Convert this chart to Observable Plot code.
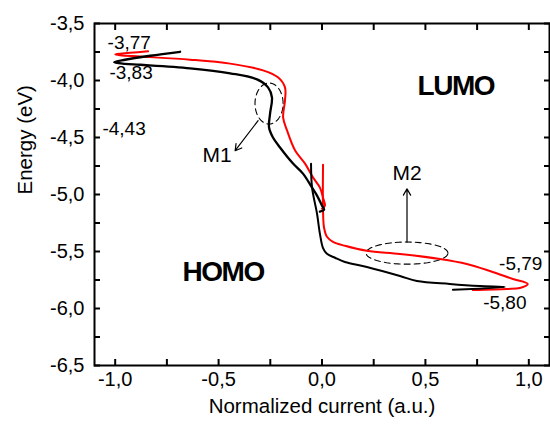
<!DOCTYPE html>
<html><head><meta charset="utf-8">
<script src="https://cdn.jsdelivr.net/npm/d3@7"></script>
<script src="https://cdn.jsdelivr.net/npm/@observablehq/plot@0.6"></script>
<style>
body{margin:0;background:#fff}
svg{font-family: Arial, "Liberation Sans", sans-serif}
</style>
</head><body><div id="chart"></div>
<script>
// ---- data ----
const xTickValues = [-1, -0.75, -0.5, -0.25, 0, 0.25, 0.5, 0.75, 1];
const yTickValues = [-6.5, -6.25, -6, -5.75, -5.5, -5.25, -5, -4.75, -4.5, -4.25, -4, -3.75, -3.5];

// black curve, upper branch (LUMO tail, M1, diagonal)
const blackUpperX = [-0.686, -0.831, -0.952, -1.005, -0.952, -0.879, -0.638, -0.444, -0.314, -0.261, -0.242, -0.251, -0.256, -0.237, -0.203, -0.140, -0.092, -0.048, -0.024, 0.000, 0.010, -0.010];
const blackUpperY = [-3.748, -3.783, -3.818, -3.840, -3.854, -3.862, -3.893, -3.937, -3.990, -4.060, -4.148, -4.289, -4.412, -4.500, -4.588, -4.729, -4.817, -4.940, -5.010, -5.098, -5.133, -5.150];
// black curve, lower branch (vertical drop, HOMO tail)
const blackLowerX = [-0.053, -0.048, -0.024, -0.010, 0.005, 0.024, 0.063, 0.111, 0.217, 0.377, 0.459, 0.618, 0.763, 0.884, 0.633];
const blackLowerY = [-4.730, -4.940, -5.169, -5.345, -5.470, -5.520, -5.555, -5.592, -5.636, -5.715, -5.759, -5.785, -5.803, -5.812, -5.836];

// red curve, upper branch
const redUpperX = [-0.841, -0.928, -1.000, -0.976, -0.879, -0.638, -0.444, -0.285, -0.213, -0.179, -0.179, -0.188, -0.169, -0.130, -0.082, -0.043, -0.010, 0.005, 0.014, 0.000];
const redUpperY = [-3.744, -3.757, -3.770, -3.779, -3.790, -3.817, -3.852, -3.911, -3.972, -4.060, -4.175, -4.324, -4.438, -4.614, -4.729, -4.852, -4.940, -5.028, -5.098, -5.125];
// red curve, lower branch
const redLowerX = [0.005, 0.005, 0.010, 0.024, 0.053, 0.111, 0.217, 0.377, 0.570, 0.700, 0.812, 0.923, 0.995, 0.957, 0.894, 0.729];
const redLowerY = [-4.738, -5.142, -5.292, -5.371, -5.415, -5.450, -5.494, -5.521, -5.565, -5.609, -5.671, -5.741, -5.785, -5.820, -5.829, -5.838];

// value annotations
const valueLabels = ["-3,77", "-3,83", "-4,43", "-5,79", "-5,80"];
const valueLabelX = [-0.932, -0.923, -0.957, 0.961, 0.884];
const valueLabelY = [-3.673, -3.937, -4.421, -5.609, -5.952];

// region labels
const regionLabels = ["LUMO", "HOMO"];
const regionLabelX = [0.647, -0.478];
const regionLabelY = [-4.052, -5.680];

// marker labels
const markerLabels = ["M1", "M2"];
const markerLabelX = [-0.507, 0.411];
const markerLabelY = [-4.659, -4.810];

// dashed ellipses: centre and radii (data units)
const ellipseCx = [-0.256, 0.411];
const ellipseCy = [-4.202, -5.514];
const ellipseRx = [0.068, 0.198];
const ellipseRy = [0.180, 0.097];

// arrows
const arrowX1 = [-0.309, 0.411];
const arrowY1 = [-4.352, -5.418];
const arrowX2 = [-0.420, 0.411];
const arrowY2 = [-4.616, -4.951];

// ---- build tables ----
const toRows = (xs, ys) => xs.map((x, i) => ({x, y: ys[i]}));
const blackUpper = toRows(blackUpperX, blackUpperY);
const blackLower = toRows(blackLowerX, blackLowerY);
const redUpper = toRows(redUpperX, redUpperY);
const redLower = toRows(redLowerX, redLowerY);
const valueRows = valueLabels.map((t, i) => ({t, x: valueLabelX[i], y: valueLabelY[i]}));
const regionRows = regionLabels.map((t, i) => ({t, x: regionLabelX[i], y: regionLabelY[i]}));
const markerRows = markerLabels.map((t, i) => ({t, x: markerLabelX[i], y: markerLabelY[i]}));
const ellipseRows = [];
ellipseCx.forEach((cx, k) => {
  for (let a = 0; a <= 360; a += 6) {
    const r = a * Math.PI / 180;
    ellipseRows.push({k, x: cx + ellipseRx[k] * Math.cos(r), y: ellipseCy[k] + ellipseRy[k] * Math.sin(r)});
  }
});
const arrowRows = arrowX1.map((x1, i) => ({x1, y1: arrowY1[i], x2: arrowX2[i], y2: arrowY2[i]}));

const fmt = d => (Math.abs(d * 2 % 1) < 1e-9 ? d.toFixed(1).replace("-0.0", "0.0").replace(".", ",") : "");
const none = () => "";

const chart = Plot.plot({
  width: 550,
  height: 425,
  marginLeft: 94,
  marginRight: 1,
  marginTop: 23,
  marginBottom: 60,
  x: {domain: [-1.1, 1.1]},
  y: {domain: [-6.5, -3.5]},
  style: {fontFamily: "Arial, 'Liberation Sans', sans-serif", fontSize: "20px", color: "black", background: "white"},
  marks: [
    Plot.axisX({ticks: xTickValues, anchor: "bottom", tickSize: -6, tickFormat: none, label: null, strokeWidth: 2}),
    Plot.axisX({ticks: xTickValues, anchor: "top", tickSize: -6, tickFormat: none, label: null, strokeWidth: 2}),
    Plot.axisY({ticks: yTickValues, anchor: "left", tickSize: -6, tickFormat: none, label: null, strokeWidth: 2}),
    Plot.axisY({ticks: yTickValues, anchor: "right", tickSize: -6, tickFormat: none, label: null, strokeWidth: 2}),
    Plot.axisX({ticks: xTickValues, anchor: "bottom", tickSize: 0, tickPadding: 6, tickFormat: fmt, label: null, fontSize: 20}),
    Plot.axisY({ticks: yTickValues, anchor: "left", tickSize: 0, tickPadding: 10, tickFormat: fmt, label: null, fontSize: 20}),
    Plot.frame({strokeWidth: 2}),
    Plot.text(["Normalized current (a.u.)"], {frameAnchor: "bottom", dy: 47, fontSize: 20.5}),
    Plot.text(["Energy (eV)"], {frameAnchor: "left", dx: -69, rotate: -90, fontSize: 20.5}),
    Plot.line(ellipseRows, {x: "x", y: "y", z: "k", stroke: "black", strokeWidth: 1.1, strokeDasharray: "6,4"}),
    Plot.arrow(arrowRows, {x1: "x1", y1: "y1", x2: "x2", y2: "y2", stroke: "black", strokeWidth: 1.2, headLength: 9}),
    Plot.line(redUpper, {x: "x", y: "y", stroke: "#ff0000", strokeWidth: 2, curve: "catmull-rom"}),
    Plot.line(redLower, {x: "x", y: "y", stroke: "#ff0000", strokeWidth: 2, curve: "catmull-rom"}),
    Plot.line(blackUpper, {x: "x", y: "y", stroke: "black", strokeWidth: 2.3, curve: "catmull-rom"}),
    Plot.line(blackLower, {x: "x", y: "y", stroke: "black", strokeWidth: 2, curve: "catmull-rom"}),
    Plot.text(valueRows, {x: "x", y: "y", text: "t", fontSize: 19}),
    Plot.text(markerRows, {x: "x", y: "y", text: "t", fontSize: 21}),
    Plot.text(regionRows, {x: "x", y: "y", text: "t", fontSize: 28, fontWeight: "bold"})
  ]
});
document.getElementById("chart").appendChild(chart);
d3.select(chart).selectAll("text").filter(function() { return this.textContent === "LUMO" || this.textContent === "HOMO"; }).style("letter-spacing", "-1.5px");
</script>
</body></html>
